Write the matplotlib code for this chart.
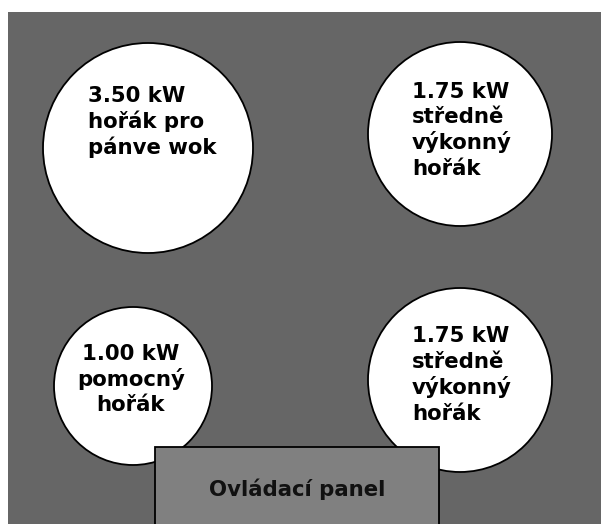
import matplotlib.pyplot as plt
from matplotlib.patches import Circle, Rectangle

# burner labels (power + description lines)
burner_power = ["3.50 kW", "1.75 kW", "1.00 kW", "1.75 kW"]
burner_name = [["hořák pro", "pánve wok"],
               ["středně", "výkonný", "hořák"],
               ["pomocný", "hořák"],
               ["středně", "výkonný", "hořák"]]
panel_label = "Ovládací panel"

# layout in pixel coords (y down)
cx = [148, 460, 133, 460]
cy = [148, 134, 386, 380]
rad = [105, 92, 79, 92]
tx = [88, 412, 131, 412]
base0 = [102.5, 97.5, 360, 342.5]   # baseline of first line
step = 25.7
align = ["left", "left", "center", "left"]

W, H = 601, 524
fig = plt.figure(figsize=(W / 100, H / 100), dpi=100)
ax = fig.add_axes([0, 0, 1, 1])
ax.set_xlim(0, W)
ax.set_ylim(H, 0)
ax.axis("off")

ax.add_patch(Rectangle((8, 12), W - 8, H - 12, facecolor="#666666", edgecolor="none"))

for i in range(len(burner_power)):
    ax.add_patch(Circle((cx[i], cy[i]), rad[i], facecolor="white",
                        edgecolor="black", linewidth=1.3))
    lines = [burner_power[i]] + burner_name[i]
    for j, line in enumerate(lines):
        ax.text(tx[i], base0[i] + j * step, line, ha=align[i], va="baseline",
                fontsize=15.3, fontweight="bold", color="black")

ax.add_patch(Rectangle((155, 447), 439 - 155, 90, facecolor="#808080",
                       edgecolor="black", linewidth=1.3))
ax.text(297, 496, panel_label, ha="center", va="baseline",
        fontsize=15.3, fontweight="bold", color="#111111")

fig.savefig("out.png", dpi=100)
